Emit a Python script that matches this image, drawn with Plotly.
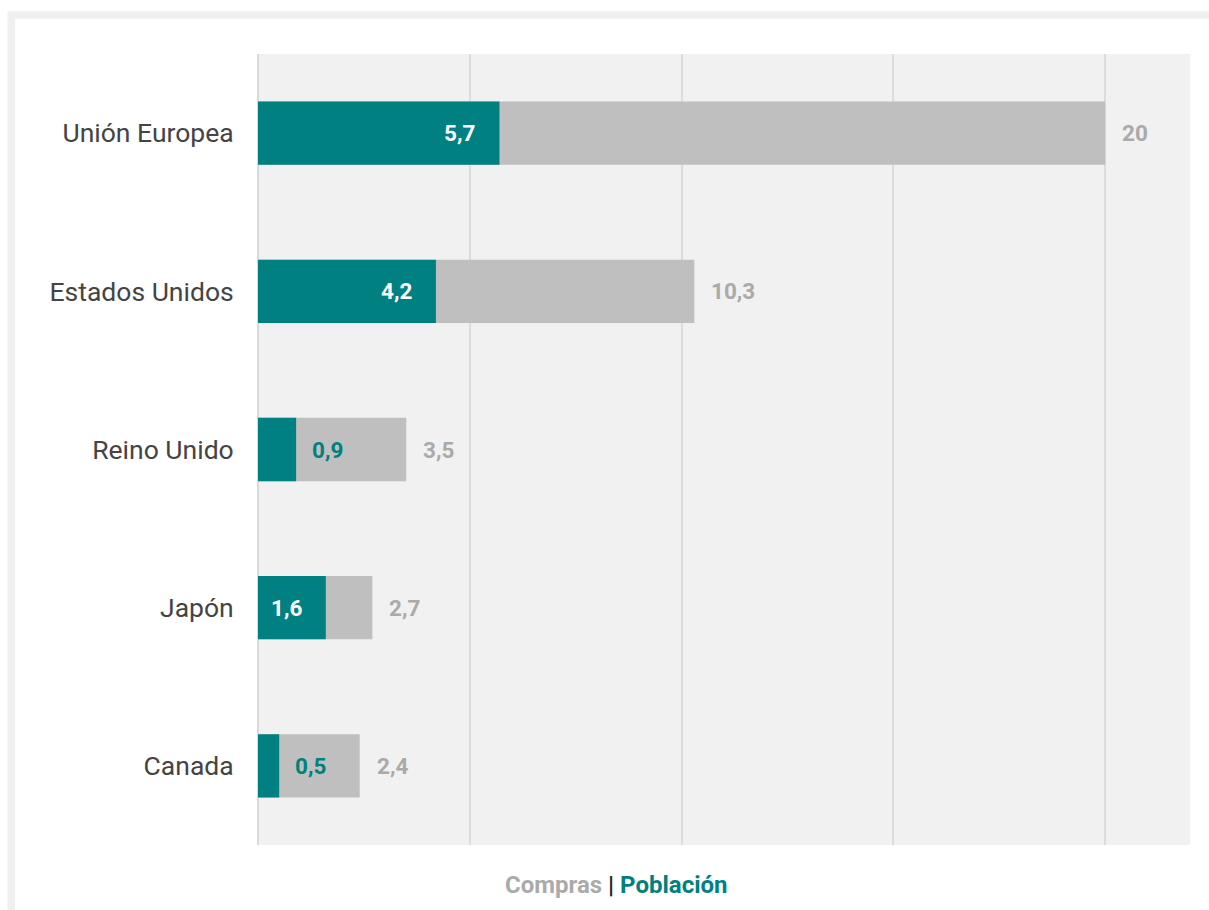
import plotly.graph_objects as go

# Datos
paises = ["Unión Europea", "Estados Unidos", "Reino Unido", "Japón", "Canada"]
compras = [20, 10.3, 3.5, 2.7, 2.4]
poblacion = [5.7, 4.2, 0.9, 1.6, 0.5]

TEAL = "#008080"
GRIS_BARRA = "#bfbfbf"
GRIS_TEXTO = "#aaaaaa"
FONDO = "#f1f1f1"

W, H = 1209, 910
M_L, M_R, M_T, M_B = 258, 19, 54, 65
X_MAX = 22
plot_w = W - M_L - M_R
plot_h = H - M_T - M_B
px_por_unidad = plot_w / X_MAX


def fmt(v):
    return f"{v:g}".replace(".", ",")


fig = go.Figure()
fig.add_trace(go.Bar(
    y=paises, x=compras, orientation="h", name="Compras",
    marker=dict(color=GRIS_BARRA, line=dict(width=0)), width=0.4,
    hoverinfo="skip",
))
fig.add_trace(go.Bar(
    y=paises, x=poblacion, orientation="h", name="Población",
    marker=dict(color=TEAL, line=dict(width=0)), width=0.4,
    hoverinfo="skip",
))

anots = []
lbl_font = dict(family="Roboto", size=22.5)
for pais, c, p in zip(paises, compras, poblacion):
    # etiqueta de compras, fuera de la barra gris
    anots.append(dict(
        x=c, y=pais, xref="x", yref="y", text=f"<b>{fmt(c)}</b>",
        showarrow=False, xanchor="left", xshift=15,
        font=dict(lbl_font, color=GRIS_TEXTO),
    ))
    # etiqueta de población: dentro si cabe, si no a continuación
    if p * px_por_unidad > 60:
        anots.append(dict(
            x=p, y=pais, xref="x", yref="y", text=f"<b>{fmt(p)}</b>",
            showarrow=False, xanchor="right", xshift=-22,
            font=dict(lbl_font, color="white"),
        ))
    else:
        anots.append(dict(
            x=p, y=pais, xref="x", yref="y", text=f"<b>{fmt(p)}</b>",
            showarrow=False, xanchor="left", xshift=14,
            font=dict(lbl_font, color=TEAL),
        ))

# leyenda
anots.append(dict(
    x=(616 - M_L) / plot_w, y=-(885 - (H - M_B)) / plot_h,
    xref="paper", yref="paper", showarrow=False,
    xanchor="center", yanchor="middle",
    text=(f"<b><span style='color:{GRIS_TEXTO}'>Compras</span> "
          f"<span style='color:#222222'>|</span> "
          f"<span style='color:{TEAL}'>Población</span></b>"),
    font=dict(family="Roboto", size=24),
))


def px_x(v):
    return (v - M_L) / plot_w


def px_y(v):
    return (H - M_B - v) / plot_h


# marco gris del contenedor
marco = dict(
    type="rect", xref="paper", yref="paper", layer="below",
    x0=px_x(11.25), x1=px_x(W + 30), y0=px_y(H + 30), y1=px_y(15),
    line=dict(color="#f0f0f0", width=7.5), fillcolor="rgba(0,0,0,0)",
)

fig.update_layout(
    width=W, height=H,
    margin=dict(l=M_L, r=M_R, t=M_T, b=M_B),
    paper_bgcolor="white", plot_bgcolor=FONDO,
    barmode="overlay", showlegend=False,
    font=dict(family="Roboto", color="#444444"),
    annotations=anots, shapes=[marco],
    xaxis=dict(
        range=[0, X_MAX], dtick=5, showticklabels=False, ticks="",
        showgrid=True, gridcolor="#dcdcdc", gridwidth=2,
        zeroline=True, zerolinecolor="#d9d9d9", zerolinewidth=2,
        showline=False, fixedrange=True,
    ),
    yaxis=dict(
        autorange="reversed", ticks="outside", ticklen=18,
        tickcolor="rgba(0,0,0,0)",
        tickfont=dict(family="Roboto", size=26.5, color="#444444"),
        showgrid=False, showline=False, fixedrange=True,
    ),
)

fig.write_html("out.html")
